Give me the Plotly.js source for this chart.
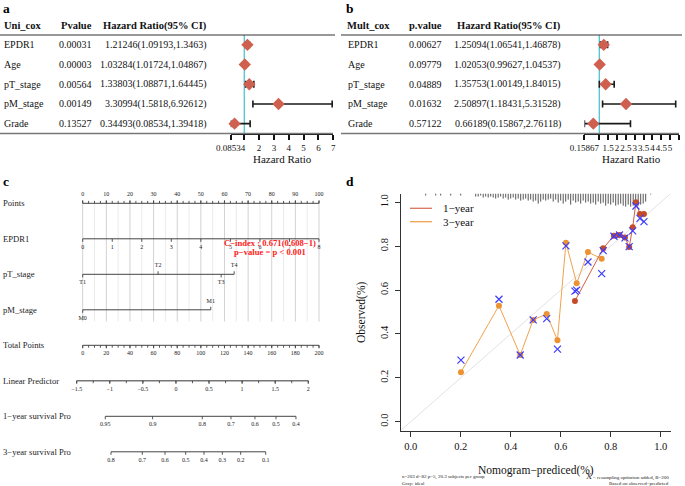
<!DOCTYPE html>
<html><head><meta charset="utf-8">
<script src="https://cdn.plot.ly/plotly-3.0.1.min.js"></script>
<style>html,body{margin:0;padding:0;background:#fff}#chart{width:685px;height:486px}</style>
</head><body><div id="chart"></div>
<script>
const W=685,H=486;
const FONT='"Liberation Serif","Times New Roman",serif';
const px=x=>x/W, py=y=>1-y/H;
const M='\u2212';

// ---------- Panel a : univariate Cox ----------
const uniVars=['EPDR1','Age','pT_stage','pM_stage','Grade'];
const uniP=['0.00031','0.00003','0.00564','0.00149','0.13527'];
const uniHR=[1.21246,1.03284,1.33803,3.30994,0.34493];
const uniLo=[1.09193,1.01724,1.08871,1.5818,0.08534];
const uniHi=[1.3463,1.04867,1.64445,6.92612,1.39418];
const uniTicks=[0.08534,1,2,3,4,5,6,7];
const uniTickText=['0.08534','','2','3','4','5','6','7'];

// ---------- Panel b : multivariate Cox ----------
const multVars=['EPDR1','Age','pT_stage','pM_stage','Grade'];
const multP=['0.00627','0.09779','0.04889','0.01632','0.57122'];
const multHR=[1.25094,1.02053,1.35753,2.50897,0.66189];
const multLo=[1.06541,0.99627,1.00149,1.18431,0.15867];
const multHi=[1.46878,1.04537,1.84015,5.31528,2.76118];
const multTicks=[0.15867,1,1.5,2,2.5,3,3.5,4,4.5,5,5.5];
const multTickText=['0.15867','','1.5','2','2.5','3','3.5','4','4.5','5','5.5'];

// ---------- Panel c : nomogram ----------
const rowNames=['Points','EPDR1','pT_stage','pM_stage','Total Points','Linear Predictor','1'+M+'year survival Pro','3'+M+'year survival Pro'];
const pointsLabels=[0,10,20,30,40,50,60,70,80,90,100];
const epdr1Labels=[0,1,2,3,4,5,6,7,8];
const epdr1Max=8;            // EPDR1 = 8 gives 100 points
const ptLabels=['T1','T2','T3','T4'];
const ptPoints=[0,31.9,58.6,64.1];
const pmLabels=['M0','M1'];
const pmPoints=[0,54.2];
const totalLabels=[0,20,40,60,80,100,120,140,160,180,200];
const lpLabels=[-1.5,-1,-0.5,0,0.5,1,1.5,2];
const lpTotalAtMin=-5.08, lpTotalPerUnit=56.0;
const surv1Labels=['0.95','0.9','0.8','0.7','0.6','0.5','0.4'];
const surv1Total=[19.1,59.2,101.2,125.5,145.8,163.6,180.5];
const surv3Labels=['0.8','0.7','0.6','0.5','0.4','0.3','0.2','0.1'];
const surv3Total=[23.95,50.44,69.66,87.18,102.67,118.16,133.73,154.89];

// ---------- Panel d : calibration ----------
const cal3Pred=[0.201,0.353,0.438,0.490,0.544,0.587,0.621,0.664,0.709,0.764];
const cal3Obs =[0.226,0.529,0.304,0.464,0.491,0.371,0.816,0.631,0.773,0.743];
const cal3Corr=[0.281,0.558,0.304,0.464,0.470,0.331,0.801,0.600,0.728,0.675];
const cal1Pred=[0.657,0.770,0.813,0.835,0.857,0.874,0.888,0.901,0.917,0.933];
const cal1Obs =[0.550,0.790,0.848,0.851,0.840,0.796,0.886,1.000,0.947,0.947];
const cal1Corr=[0.595,0.780,0.845,0.851,0.838,0.798,0.870,0.983,0.927,0.912];
const rugX=[0.06,0.10,0.12,0.16,0.20,0.26,0.27,0.28,0.29,0.30,0.31,0.32,0.33,0.34,0.35,0.36,0.37,0.38,0.39,0.40,0.41,0.42,0.43,0.44,0.45,0.46,0.47,0.48,0.49,0.50,0.51,0.52,0.53,0.54,0.55,0.56,0.57,0.58,0.59,0.60,0.61,0.62,0.63,0.64,0.65,0.66,0.67,0.68,0.69,0.70,0.71,0.72,0.73,0.74,0.75,0.76,0.77,0.78,0.79,0.80,0.81,0.82,0.83,0.84,0.85,0.86,0.87,0.88,0.89,0.90,0.91,0.92,0.93,0.94,0.96];
const rugCount=[2,2,2,2,2,3,3,2,4,3,4,3,4,5,4,3,5,4,6,5,4,6,5,7,6,5,7,6,8,7,10,8,6,7,6,5,8,6,9,7,10,8,6,11,7,9,8,10,7,9,8,10,9,11,8,10,9,12,10,11,9,12,11,10,12,13,11,13,12,13,12,11,10,8,1];

// ================= build =================
const traces=[], shapes=[], annotations=[];
const ann=(x,y,text,o={})=>Object.assign({x,y,text,xref:'paper',yref:'paper',showarrow:false,xanchor:'left',yanchor:'middle',font:{family:FONT,size:10,color:'#111'}},o);

function forest(hr,lo,hi,xa,ya){
  return {type:'scatter',mode:'markers',x:hr,y:hr.map((_,i)=>i),xaxis:xa,yaxis:ya,cliponaxis:false,hoverinfo:'skip',
    error_x:{type:'data',symmetric:false,array:hi.map((h,i)=>h-hr[i]),arrayminus:lo.map((l,i)=>hr[i]-l),color:'#1a1a1a',thickness:1.6,width:3.5},
    marker:{symbol:'diamond',size:9.5,color:'#cf6050'}};
}
traces.push(forest(uniHR,uniLo,uniHi,'x','y'));
traces.push(forest(multHR,multLo,multHi,'x2','y2'));

function table(yref,vars,pv,hr,lo,hi,xs,heads){
  const hy=py(26), hf={family:FONT,size:10.5,color:'#111'};
  annotations.push(ann(px(xs.h0),hy,'<b>'+heads[0]+'</b>',{font:hf}));
  annotations.push(ann(px(xs.h1),hy,'<b>'+heads[1]+'</b>',{font:hf}));
  annotations.push(ann(px(xs.hr),hy,'<b>Hazard Ratio(95% CI)</b>',{xanchor:'right',font:hf}));
  vars.forEach((v,i)=>{
    annotations.push(ann(px(xs.n),i,v,{yref}));
    annotations.push(ann(px(xs.p),i,pv[i],{yref}));
    annotations.push(ann(px(xs.hr),i,hr[i]+'('+lo[i]+','+hi[i]+')',{yref,xanchor:'right'}));
  });
}
table('y',uniVars,uniP,uniHR,uniLo,uniHi,{h0:2,h1:59,n:2,p:57.3,hr:208.5},['Uni_cox','Pvalue']);
table('y2',multVars,multP,multHR,multLo,multHi,{h0:345,h1:406.7,n:346,p:406.7,hr:562.5},['Mult_cox','p.value']);

// table rules
shapes.push({type:'line',xref:'paper',yref:'paper',x0:px(0),x1:px(335),y0:py(35),y1:py(35),line:{color:'#333',width:1}});
shapes.push({type:'line',xref:'paper',yref:'paper',x0:px(0),x1:px(333),y0:py(133.5),y1:py(133.5),line:{color:'#777',width:1.5}});
shapes.push({type:'line',xref:'paper',yref:'paper',x0:px(341),x1:px(682),y0:py(35),y1:py(35),line:{color:'#333',width:1}});
shapes.push({type:'line',xref:'paper',yref:'paper',x0:px(341),x1:px(679),y0:py(133.5),y1:py(133.5),line:{color:'#777',width:1.5}});
// reference lines HR = 1
shapes.push({type:'line',xref:'x',yref:'y',x0:1,x1:1,y0:-0.5,y1:4.5,layer:'below',line:{color:'#4fc4d0',width:1.3}});
shapes.push({type:'line',xref:'x2',yref:'y2',x0:1,x1:1,y0:-0.5,y1:4.5,layer:'below',line:{color:'#4fc4d0',width:1.3}});
annotations.push(ann(px(282),py(159),'Hazard Ratio',{xanchor:'center',font:{family:FONT,size:11,color:'#111'}}));
annotations.push(ann(px(631),py(159),'Hazard Ratio',{xanchor:'center',font:{family:FONT,size:11,color:'#111'}}));

// ---- nomogram ----
const NOMO_LINE='#444', TL=0.085, LO=0.235;
function nomoRow(r,pos,labels,sides,minor,minorSide,lineOpt){
  const lo=Math.min(...pos), hi=Math.max(...pos);
  traces.push({x:[lo,hi],y:[r,r],mode:'lines',xaxis:'x3',yaxis:'y3',hoverinfo:'skip',cliponaxis:false,
    line:{color:lineOpt&&lineOpt.color||NOMO_LINE,width:lineOpt&&lineOpt.width||1}});
  const tx=[],ty=[];
  pos.forEach((p,i)=>{const d=sides[i]==='up'?-TL:TL;tx.push(p,p,null);ty.push(r,r+d,null);});
  (minor||[]).forEach(p=>{const d=minorSide==='up'?-TL*0.8:TL*0.8;tx.push(p,p,null);ty.push(r,r+d,null);});
  traces.push({x:tx,y:ty,mode:'lines',xaxis:'x3',yaxis:'y3',hoverinfo:'skip',cliponaxis:false,line:{color:NOMO_LINE,width:0.9}});
  traces.push({x:pos,y:pos.map((p,i)=>r+(sides[i]==='up'?-LO:LO)),text:labels,mode:'text',xaxis:'x3',yaxis:'y3',
    hoverinfo:'skip',cliponaxis:false,textfont:{family:FONT,size:6,color:'#222'}});
}
// grid lines
(function(){
  const gx=[],gy=[],lx=[],ly=[];
  for(let i=0;i<pointsLabels.length;i++){
    gx.push(pointsLabels[i],pointsLabels[i],null);gy.push(0,3.33,null);
    if(i<pointsLabels.length-1){const m=(pointsLabels[i]+pointsLabels[i+1])/2;lx.push(m,m,null);ly.push(0,3.33,null);}
  }
  traces.push({x:lx,y:ly,mode:'lines',xaxis:'x3',yaxis:'y3',hoverinfo:'skip',line:{color:'#ececec',width:1}});
  traces.push({x:gx,y:gy,mode:'lines',xaxis:'x3',yaxis:'y3',hoverinfo:'skip',line:{color:'#d2d2d2',width:1}});
})();
const rng=(a,b,s)=>{const o=[];for(let v=a;v<=b+1e-9;v+=s)o.push(+v.toFixed(4));return o;};
nomoRow(0,pointsLabels,pointsLabels.map(String),pointsLabels.map(()=>'up'),rng(0,100,2.5),'up');
nomoRow(1,epdr1Labels.map(v=>v/epdr1Max*100),epdr1Labels.map(String),epdr1Labels.map(()=>'down'));
nomoRow(2,ptPoints,ptLabels,['down','up','down','up']);
nomoRow(3,pmPoints,pmLabels,['down','up']);
nomoRow(4,totalLabels.map(v=>v/2),totalLabels.map(String),totalLabels.map(()=>'down'),rng(0,200,5).map(v=>v/2),'down');
const lpPos=v=>(lpTotalAtMin+(v-lpLabels[0])*lpTotalPerUnit)/2;
nomoRow(5,lpLabels.map(lpPos),lpLabels.map(v=>String(v).replace('-',M)),lpLabels.map(()=>'down'),rng(-1.5,2,0.25).map(lpPos),'down',{color:'#777',width:1.6});
nomoRow(6,surv1Total.map(v=>v/2),surv1Labels,surv1Labels.map(()=>'down'));
nomoRow(7,surv3Total.map(v=>v/2),surv3Labels,surv3Labels.map(()=>'down'));
rowNames.forEach((n,i)=>annotations.push(ann(0.001,i,n,{yref:'y3',font:{family:FONT,size:8.6,color:'#222'}})));
annotations.push(ann(px(270),py(242.7),'<b>C'+M+'index : 0.671(0.608'+M+'1)</b>',{xanchor:'center',font:{family:FONT,size:8.6,color:'#ff1a1a'}}));
annotations.push(ann(px(270),py(251.7),'<b>p'+M+'value = p &lt; 0.001</b>',{xanchor:'center',font:{family:FONT,size:8.6,color:'#ff1a1a'}}));

// ---- calibration ----
shapes.push({type:'line',xref:'x4',yref:'y4',x0:-0.04,y0:-0.04,x1:1.04,y1:1.04,layer:'below',line:{color:'#e2e2e2',width:1}});
(function(){
  const rx=[],ry=[],top=1.04,scale=0.06/13;
  rugX.forEach((x,i)=>{rx.push(x,x,null);ry.push(top,top-rugCount[i]*scale,null);});
  traces.push({x:rx,y:ry,mode:'lines',xaxis:'x4',yaxis:'y4',hoverinfo:'skip',line:{color:'#555',width:1}});
})();
traces.push({x:cal3Pred,y:cal3Obs,mode:'lines+markers',xaxis:'x4',yaxis:'y4',hoverinfo:'skip',
  line:{color:'#f0a24e',width:1},marker:{color:'#ec9232',size:6}});
traces.push({x:cal1Pred,y:cal1Obs,mode:'lines+markers',xaxis:'x4',yaxis:'y4',hoverinfo:'skip',
  line:{color:'#d0603f',width:1},marker:{color:'#c54a2a',size:6}});
traces.push({x:cal3Pred.concat(cal1Pred),y:cal3Corr.concat(cal1Corr),mode:'markers',xaxis:'x4',yaxis:'y4',hoverinfo:'skip',
  marker:{symbol:'x-thin',size:7,color:'#3b3bff',line:{color:'#3b3bff',width:1.2}}});
// legend
shapes.push({type:'line',xref:'paper',yref:'paper',x0:px(410),x1:px(432),y0:py(208.3),y1:py(208.3),line:{color:'#d9735c',width:1.3}});
shapes.push({type:'line',xref:'paper',yref:'paper',x0:px(410),x1:px(432),y0:py(221.7),y1:py(221.7),line:{color:'#f0a24e',width:1.3}});
annotations.push(ann(px(441),py(208.3),'1'+M+'year',{font:{family:FONT,size:11,color:'#111'}}));
annotations.push(ann(px(441),py(221.7),'3'+M+'year',{font:{family:FONT,size:11,color:'#111'}}));
annotations.push(ann(px(535.7),py(470),'Nomogram'+M+'prediced(%)',{xanchor:'center',font:{family:FONT,size:11.5,color:'#111'}}));
annotations.push(ann(px(361),py(312),'Observed(%)',{xanchor:'center',textangle:-90,font:{family:FONT,size:11.5,color:'#111'}}));
const capF={family:FONT,size:5,color:'#222'};
annotations.push(ann(px(400),py(476.5),'n=203 d=82 p=5, 20.3 subjects per group',{font:capF}));
annotations.push(ann(px(400),py(483),'Gray: ideal',{font:capF}));
annotations.push(ann(px(670.7),py(476.5),'<span style="font-size:8px">X</span> '+M+' resampling optimism added, B=200',{xanchor:'right',font:capF}));
annotations.push(ann(px(670.7),py(483),'Based on observed'+M+'predicted',{xanchor:'right',font:capF}));

// panel letters
const letF={family:FONT,size:13.5,color:'#000'};
annotations.push(ann(px(1),py(-1),'<b>a</b>',{yanchor:'top',font:letF}));
annotations.push(ann(px(344),py(-1),'<b>b</b>',{yanchor:'top',font:letF}));
annotations.push(ann(px(1),py(181.8),'<b>c</b>',{font:letF}));
annotations.push(ann(px(344),py(181.8),'<b>d</b>',{font:letF}));

// ================= axes =================
const forestX=(dom,range,tv,tt,anchor)=>({domain:dom,range,anchor,showline:true,linecolor:'#111',linewidth:1.5,ticks:'outside',ticklen:5,tickwidth:2,tickcolor:'#111',
  tickmode:'array',tickvals:tv,ticktext:tt,tickangle:0,tickfont:{family:FONT,size:9,color:'#111'},showgrid:false,zeroline:false,fixedrange:true});
const hidY=dom=>({domain:dom,range:[4.5,-0.5],visible:false,fixedrange:true});
const x3d=[40,338], p0=82.7, p100=319, pr=v=>(v-p0)*100/(p100-p0);
const y3d=[168,482], r0=203.3, rs=35.5, rr=v=>(v-r0)/rs;
const layout={
  width:W,height:H,margin:{l:0,r:0,t:0,b:0},paper_bgcolor:'#fff',plot_bgcolor:'rgba(0,0,0,0)',showlegend:false,
  font:{family:FONT,color:'#111'},
  xaxis:forestX([px(230.7),px(333.3)],[0.0843,7.002],uniTicks,uniTickText,'y'),
  yaxis:hidY([py(133.5),py(35)]),
  xaxis2:forestX([px(584.4),px(679)],[0.1577,5.502],multTicks,multTickText,'y2'),
  yaxis2:hidY([py(133.5),py(35)]),
  xaxis3:{domain:[px(x3d[0]),px(x3d[1])],range:[pr(x3d[0]),pr(x3d[1])],visible:false,anchor:'y3',fixedrange:true},
  yaxis3:{domain:[py(y3d[1]),py(y3d[0])],range:[rr(y3d[1]),rr(y3d[0])],visible:false,anchor:'x3',fixedrange:true},
  xaxis4:{domain:[px(400.7),px(670.7)],range:[-0.04,1.04],anchor:'y4',showline:true,linecolor:'#333',linewidth:1,ticks:'outside',ticklen:5,tickcolor:'#333',
    tickmode:'array',tickvals:[0,0.2,0.4,0.6,0.8,1],ticktext:['0.0','0.2','0.4','0.6','0.8','1.0'],tickangle:0,ticklabelstandoff:1,
    tickfont:{family:FONT,size:10.5,color:'#111'},showgrid:false,zeroline:false,fixedrange:true},
  yaxis4:{domain:[py(430.5),py(193.5)],range:[-0.04,1.04],anchor:'x4',showline:true,linecolor:'#333',linewidth:1,ticks:'outside',ticklen:5,tickcolor:'#333',
    tickmode:'array',tickvals:[0,0.2,0.4,0.6,0.8,1],ticktext:['0.0','0.2','0.4','0.6','0.8','1.0'],tickangle:-90,ticklabelstandoff:3,
    tickfont:{family:FONT,size:10.5,color:'#111'},showgrid:false,zeroline:false,fixedrange:true},
  shapes,annotations
};
traces.forEach(t=>{if(!t.type)t.type='scatter';});
Plotly.newPlot('chart',traces,layout,{staticPlot:true,displayModeBar:false});
</script></body></html>
